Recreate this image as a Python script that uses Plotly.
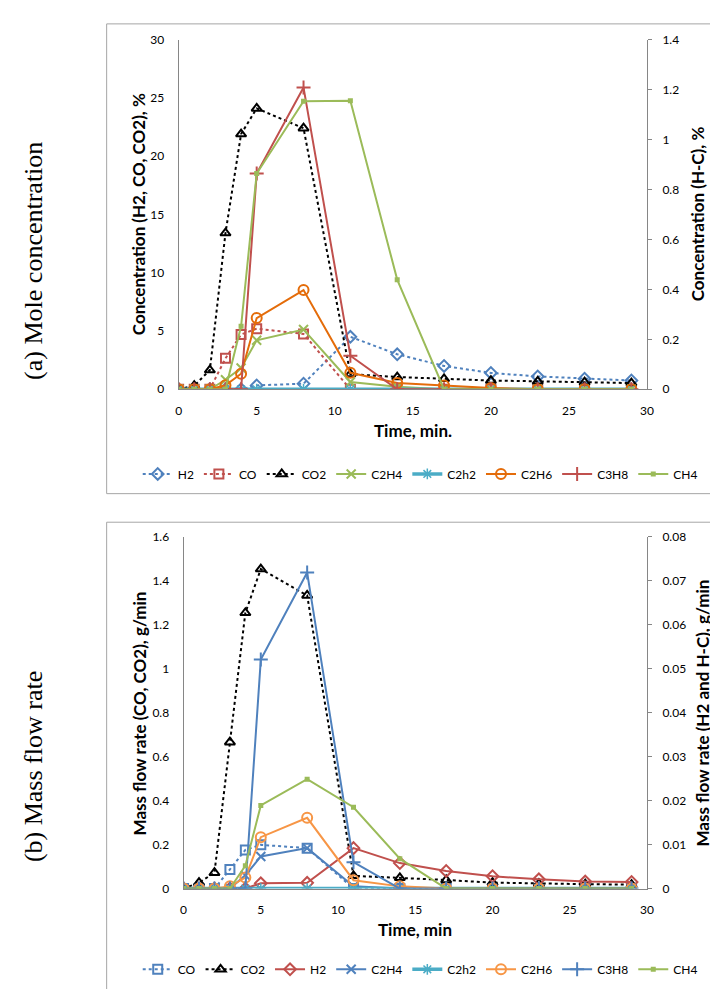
import plotly.graph_objects as go

W, H = 718, 989

# time, min
t = [0, 1, 2, 3, 4, 5, 8, 11, 14, 17, 20, 23, 26, 29]

# (a) mole concentration, %  (H2, CO, CO2 on left axis; H-C on right axis)
h2_a = [0, 0, 0, 0, 0, 0.33, 0.48, 4.5, 3.0, 2.0, 1.4, 1.1, 0.9, 0.75]
co_a = [0, 0, 0, 2.65, 4.7, 5.2, 4.75, 0, 0, 0, 0, 0, 0, 0]
co2_a = [0, 0.3, 1.65, 13.4, 21.9, 24.1, 22.4, 1.3, 1.05, 0.9, 0.75, 0.68, 0.6, 0.53]
c2h4_a = [0, 0, 0, 0.038, 0.085, 0.196, 0.239, 0.029, 0.01, 0, 0, 0, 0, 0]
c2h2_a = [0, 0, 0, 0, 0, 0, 0, 0, 0, 0, 0, 0, 0, 0]
c2h6_a = [0, 0, 0, 0.016, 0.062, 0.285, 0.397, 0.066, 0.025, 0.015, 0.005, 0, 0, 0]
c3h8_a = [0, 0, 0, 0, 0, 0.864, 1.208, 0.134, 0, 0, 0, 0, 0, 0]
ch4_a = [0, 0, 0, 0, 0.252, 0.864, 1.153, 1.155, 0.439, 0, 0, 0, 0, 0]

# (b) mass flow rate, g/min  (CO, CO2 on left axis; H2 and H-C on right axis)
co_b = [0, 0, 0, 0.087, 0.176, 0.199, 0.184, 0, 0, 0, 0, 0, 0, 0]
co2_b = [0, 0.027, 0.072, 0.666, 1.255, 1.454, 1.334, 0.058, 0.049, 0.039, 0.027, 0.022, 0.02, 0.018]
h2_b = [0, 0, 0, 0, 0, 0.0012, 0.0013, 0.0092, 0.0058, 0.004, 0.0028, 0.0021, 0.0016, 0.0015]
c2h4_b = [0, 0, 0, 0, 0.003, 0.0073, 0.0092, 0.0005, 0, 0, 0, 0, 0, 0]
c2h2_b = [0, 0, 0, 0, 0, 0, 0, 0, 0, 0, 0, 0, 0, 0]
c2h6_b = [0, 0, 0, 0.0005, 0.0025, 0.0117, 0.0161, 0.0019, 0.0005, 0, 0, 0, 0, 0]
c3h8_b = [0, 0, 0, 0, 0, 0.0521, 0.0719, 0.006, 0, 0, 0, 0, 0, 0]
ch4_b = [0, 0, 0, 0, 0.0052, 0.0189, 0.0249, 0.0185, 0.0068, 0, 0, 0, 0, 0]

BLUE = '#4F81BD'
RED = '#C0504D'
GREEN = '#9BBB59'
TEAL = '#4BACC6'
ORANGE_A = '#E46C0A'
ORANGE_B = '#F79646'
AXIS = '#868686'
FONT = 'Lato'


def px(x):
    return x / W


def py(y):
    return 1 - y / H


def serie(x, y, name, color, symbol, dash='solid', width=2, size=8, mw=2,
          xa='x', ya='y', legend='legend'):
    return go.Scatter(
        x=x, y=y, name=name, mode='lines+markers',
        xaxis=xa, yaxis=ya, legend=legend,
        line=dict(color=color, width=width, dash=dash),
        marker=dict(symbol=symbol, size=size, color=color,
                    line=dict(color=color, width=mw)),
    )


fig = go.Figure()

# --- (a) Mole concentration ---
fig.add_trace(serie(t, h2_a, 'H2', BLUE, 'diamond-open', dash='dot', size=9))
fig.add_trace(serie(t, co_a, 'CO', RED, 'square-open', dash='dot', size=9))
fig.add_trace(serie(t, co2_a, 'CO2', 'black', 'triangle-up-open', dash='dot', size=9))
fig.add_trace(serie(t, c2h4_a, 'C2H4', GREEN, 'x-thin', size=9, ya='y2'))
fig.add_trace(serie(t, c2h2_a, 'C2h2', TEAL, 'asterisk', width=3.5, size=9, mw=1.5, ya='y2'))
fig.add_trace(serie(t, c2h6_a, 'C2H6', ORANGE_A, 'circle-open', size=10, ya='y2'))
fig.add_trace(serie(t, c3h8_a, 'C3H8', RED, 'cross-thin', size=10, ya='y2'))
fig.add_trace(serie(t, ch4_a, 'CH4', GREEN, 'square', size=5, mw=0, ya='y2'))

# --- (b) Mass flow rate ---
fig.add_trace(serie(t, co_b, 'CO', BLUE, 'square-open', dash='dot', size=9,
                    xa='x2', ya='y3', legend='legend2'))
fig.add_trace(serie(t, co2_b, 'CO2', 'black', 'triangle-up-open', dash='dot', size=9,
                    xa='x2', ya='y3', legend='legend2'))
fig.add_trace(serie(t, h2_b, 'H2', RED, 'diamond-open', size=9,
                    xa='x2', ya='y4', legend='legend2'))
fig.add_trace(serie(t, c2h4_b, 'C2H4', BLUE, 'x-thin', size=9,
                    xa='x2', ya='y4', legend='legend2'))
fig.add_trace(serie(t, c2h2_b, 'C2h2', TEAL, 'asterisk', width=3.5, size=9, mw=1.5,
                    xa='x2', ya='y4', legend='legend2'))
fig.add_trace(serie(t, c2h6_b, 'C2H6', ORANGE_B, 'circle-open', size=10,
                    xa='x2', ya='y4', legend='legend2'))
fig.add_trace(serie(t, c3h8_b, 'C3H8', BLUE, 'cross-thin', size=10,
                    xa='x2', ya='y4', legend='legend2'))
fig.add_trace(serie(t, ch4_b, 'CH4', GREEN, 'square', size=5, mw=0,
                    xa='x2', ya='y4', legend='legend2'))

tickfont = dict(family=FONT, size=12, color='black')
xcommon = dict(range=[0, 30], dtick=5, showline=True, linecolor=AXIS, linewidth=1,
               ticks='', showgrid=False, zeroline=False, tickfont=tickfont,
               ticklabelstandoff=10)
ycommon = dict(showline=True, linecolor=AXIS, linewidth=1, showgrid=False,
               zeroline=False, tickfont=tickfont)

title_font = dict(family=FONT, size=17, color='black')
side_font = dict(family='Liberation Serif', size=26, color='black')

fig.update_layout(
    width=W, height=H,
    margin=dict(l=0, r=0, t=0, b=0),
    paper_bgcolor='white', plot_bgcolor='white',
    font=dict(family=FONT, size=12, color='black'),
    xaxis=dict(xcommon, domain=[px(170), px(645)], anchor='y'),
    yaxis=dict(ycommon, domain=[py(379), py(24)], range=[0, 30], dtick=5,
               ticks='', ticklabelstandoff=11, anchor='x'),
    yaxis2=dict(ycommon, overlaying='y', side='right', range=[0, 1.4], dtick=0.2,
                ticks='outside', ticklen=4, tickcolor=AXIS, ticklabelstandoff=8,
                anchor='x'),
    xaxis2=dict(xcommon, domain=[px(175), px(645)], anchor='y3'),
    yaxis3=dict(ycommon, domain=[py(886), py(529)], range=[0, 1.6], dtick=0.2,
                ticks='', ticklabelstandoff=11, anchor='x2'),
    yaxis4=dict(ycommon, overlaying='y3', side='right', range=[0, 0.08], dtick=0.01,
                ticks='outside', ticklen=4, tickcolor=AXIS, ticklabelstandoff=8,
                anchor='x2'),
    legend=dict(orientation='h', x=px(415), xanchor='center', y=py(465), yanchor='middle',
                font=dict(family=FONT, size=12), bgcolor='rgba(0,0,0,0)',
                itemwidth=30, tracegroupgap=0),
    legend2=dict(orientation='h', x=px(415), xanchor='center', y=py(968), yanchor='middle',
                 font=dict(family=FONT, size=12), bgcolor='rgba(0,0,0,0)',
                 itemwidth=30, tracegroupgap=0),
    showlegend=True,
)

# chart frames (right and lower edges run past the page)
for y0, y1 in [(8, 485), (514, 1000)]:
    fig.add_shape(type='rect', xref='paper', yref='paper',
                  x0=px(97), x1=px(725), y0=py(y1), y1=py(y0),
                  line=dict(color='#A6A6A6', width=1), fillcolor='rgba(0,0,0,0)')

annots = [
    dict(x=px(408), y=py(421), text='<b>Time, min.</b>', textangle=0, font=title_font),
    dict(x=px(130), y=py(201), text='<b>Concentration (H2, CO, CO2), %</b>', textangle=-90, font=title_font),
    dict(x=px(697), y=py(201), text='<b>Concentration (H-C), %</b>', textangle=-90, font=title_font),
    dict(x=px(410), y=py(928), text='<b>Time, min</b>', textangle=0, font=title_font),
    dict(x=px(130), y=py(708), text='<b>Mass flow rate (CO, CO2), g/min</b>', textangle=-90, font=title_font),
    dict(x=px(701), y=py(708), text='<b>Mass flow rate (H2 and H-C), g/min</b>', textangle=-90, font=title_font),
    dict(x=px(23), y=py(249), text='(a) Mole concentration', textangle=-90, font=side_font),
    dict(x=px(23), y=py(762), text='(b) Mass flow rate', textangle=-90, font=side_font),
]
for a in annots:
    fig.add_annotation(xref='paper', yref='paper', showarrow=False,
                       xanchor='center', yanchor='middle', **a)

fig.write_html("out.html")
